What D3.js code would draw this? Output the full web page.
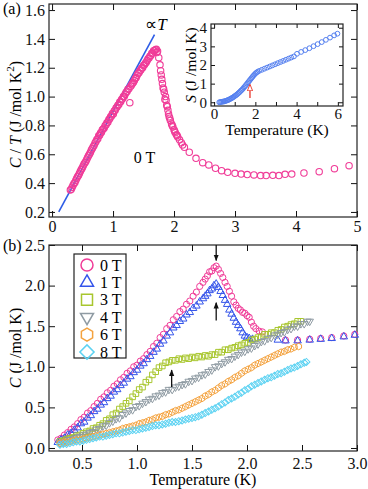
<!DOCTYPE html>
<html>
<head>
<meta charset="utf-8">
<script src="https://cdn.jsdelivr.net/npm/d3@7"></script>
<style>
  body { margin: 0; background: #fff; }
  svg { display: block; }
</style>
</head>
<body>
<svg id="chart"></svg>
<script>
// DATA
// panel (a): C/T at 0 T, [T (K), C/T (J/mol K^2)]
const ctZero = [
  [0.30,0.352],[0.315,0.358],[0.33,0.372],[0.345,0.385],[0.36,0.398],[0.375,0.405],[0.39,0.420],[0.405,0.434],
  [0.42,0.446],[0.435,0.455],[0.45,0.468],[0.465,0.482],[0.48,0.494],[0.495,0.505],[0.51,0.518],[0.525,0.532],
  [0.54,0.542],[0.555,0.552],[0.57,0.566],[0.585,0.580],[0.60,0.592],[0.615,0.602],[0.63,0.614],[0.645,0.630],
  [0.66,0.640],[0.675,0.652],[0.69,0.662],[0.705,0.678],[0.72,0.688],[0.735,0.702],[0.75,0.708],[0.765,0.728],
  [0.78,0.732],[0.795,0.748],[0.81,0.752],[0.825,0.770],[0.84,0.775],[0.855,0.782],[0.87,0.798],[0.885,0.805],
  [0.90,0.818],[0.915,0.822],[0.93,0.840],[0.945,0.846],[0.96,0.860],[0.975,0.865],[0.99,0.882],[1.005,0.880],
  [1.02,0.900],[1.035,0.905],[1.05,0.920],[1.065,0.928],[1.08,0.940],[1.095,0.945],[1.11,0.962],[1.125,0.965],
  [1.14,0.980],[1.155,0.985],[1.17,1.000],[1.185,1.002],[1.20,1.018],[1.215,1.030],[1.23,1.036],[1.245,1.050],
  [1.26,1.055],[1.275,0.958],[1.29,1.072],[1.305,1.082],[1.32,1.092],[1.335,1.100],[1.35,1.112],[1.365,1.125],
  [1.38,1.132],[1.395,1.148],[1.41,1.160],[1.425,1.165],[1.44,1.180],[1.455,1.185],[1.47,1.198],[1.485,1.200],
  [1.50,1.215],[1.515,1.220],[1.53,1.232],[1.545,1.238],[1.56,1.250],[1.575,1.262],[1.59,1.268],[1.605,1.280],
  [1.62,1.285],[1.635,1.300],[1.65,1.302],[1.665,1.318],[1.68,1.318],[1.695,1.325],[1.71,1.328],[1.72,1.305],
  [1.73,1.315],[1.75,1.270],[1.77,1.220],[1.78,1.180],[1.79,1.150],[1.80,1.120],[1.81,1.090],[1.82,1.060],
  [1.83,1.050],[1.84,1.030],[1.85,0.980],[1.86,1.000],[1.87,0.975],[1.88,0.940],[1.89,0.930],[1.90,0.905],
  [1.91,0.880],[1.92,0.860],[1.93,0.850],[1.94,0.835],[1.96,0.810],[1.97,0.800],[1.98,0.790],[2.00,0.770],
  [2.01,0.760],[2.02,0.750],[2.04,0.735],[2.05,0.730],[2.06,0.720],[2.09,0.700],[2.12,0.680],[2.14,0.665],
  [2.17,0.648],[2.25,0.614],[2.36,0.572],[2.47,0.542],[2.57,0.526],[2.68,0.503],[2.78,0.486],[2.88,0.475],
  [3.00,0.468],[3.10,0.463],[3.20,0.459],[3.31,0.457],[3.42,0.452],[3.51,0.452],[3.62,0.454],[3.72,0.452],
  [3.82,0.461],[3.93,0.463],[4.13,0.470],[4.38,0.479],[4.63,0.500],[4.87,0.521]
];
// straight line "∝ T"
const ctFit = [[0.11, 0.20], [1.68, 1.43]];

// inset: entropy S (J/mol K)
const entropy = [
  [0.25,0.00],[0.30,0.01],[0.35,0.02],[0.40,0.03],[0.45,0.04],[0.50,0.05],[0.55,0.07],[0.60,0.09],
  [0.65,0.11],[0.70,0.13],[0.75,0.16],[0.80,0.19],[0.85,0.22],[0.90,0.25],[0.95,0.29],[1.00,0.33],
  [1.05,0.37],[1.10,0.41],[1.15,0.46],[1.20,0.51],[1.25,0.56],[1.30,0.62],[1.35,0.67],[1.40,0.73],
  [1.45,0.80],[1.50,0.86],[1.55,0.93],[1.60,1.00],[1.65,1.07],[1.70,1.14],[1.75,1.21],[1.80,1.28],
  [1.85,1.35],[1.90,1.42],[1.95,1.48],[2.00,1.54],[2.05,1.59],[2.10,1.63],
  [2.18,1.68],[2.31,1.74],[2.44,1.80],[2.57,1.86],[2.70,1.92],[2.83,1.98],[2.96,2.04],[3.09,2.10],
  [3.22,2.16],[3.35,2.22],[3.48,2.28],[3.61,2.34],[3.74,2.40],[3.87,2.46],[4.02,2.60],[4.22,2.70],
  [4.42,2.80],[4.62,2.90],[4.82,3.01],[5.02,3.12],[5.22,3.23],[5.42,3.35],[5.62,3.47],[5.82,3.59],[5.98,3.68]
];

// panel (b): C (J/mol K) for each field
const c0T = [
  [0.28,0.10],[0.31,0.12],[0.34,0.16],[0.37,0.19],[0.40,0.23],[0.43,0.26],[0.46,0.30],[0.49,0.35],[0.52,0.38],
  [0.55,0.43],[0.58,0.46],[0.61,0.51],[0.64,0.55],[0.67,0.60],[0.70,0.63],[0.73,0.68],[0.76,0.71],[0.79,0.76],
  [0.82,0.79],[0.85,0.84],[0.88,0.87],[0.91,0.92],[0.94,0.95],[0.97,1.00],[1.00,1.02],[1.03,1.07],[1.06,1.10],
  [1.09,1.15],[1.12,1.19],[1.15,1.25],[1.18,1.29],[1.21,1.36],[1.24,1.40],[1.27,1.47],[1.30,1.51],[1.33,1.58],
  [1.36,1.62],[1.39,1.68],[1.42,1.71],[1.45,1.77],[1.48,1.81],[1.51,1.87],[1.54,1.92],[1.57,1.99],[1.60,2.04],
  [1.62,2.08],[1.64,2.12],[1.66,2.17],[1.68,2.18],[1.70,2.22],[1.72,2.24],[1.74,2.20],[1.76,2.15],[1.78,2.10],
  [1.80,2.04],[1.82,1.99],[1.84,1.93],[1.86,1.87],[1.88,1.80],[1.90,1.76],[1.92,1.72],[1.94,1.70],[1.96,1.67],
  [1.98,1.66],[2.00,1.63],[2.02,1.61],[2.04,1.55],[2.06,1.50],[2.08,1.47],[2.11,1.44],[2.14,1.43],
  [2.35,1.33],[2.46,1.33],[2.57,1.34],[2.67,1.35],[2.77,1.36],[2.88,1.38],[2.98,1.40]
];
const c1T = [
  [0.28,0.07],[0.31,0.10],[0.34,0.12],[0.37,0.16],[0.40,0.18],[0.43,0.22],[0.46,0.25],[0.49,0.30],[0.52,0.32],
  [0.55,0.37],[0.58,0.40],[0.61,0.45],[0.64,0.48],[0.67,0.53],[0.70,0.56],[0.73,0.61],[0.76,0.64],[0.79,0.69],
  [0.82,0.72],[0.85,0.77],[0.88,0.80],[0.91,0.85],[0.94,0.88],[0.97,0.93],[1.00,0.96],[1.03,1.01],[1.06,1.04],
  [1.09,1.09],[1.12,1.13],[1.15,1.18],[1.18,1.22],[1.21,1.28],[1.24,1.32],[1.27,1.38],[1.30,1.42],[1.33,1.48],
  [1.36,1.51],[1.39,1.56],[1.42,1.59],[1.45,1.64],[1.48,1.67],[1.51,1.72],[1.54,1.75],[1.57,1.80],[1.60,1.84],
  [1.62,1.87],[1.64,1.90],[1.66,1.94],[1.68,1.96],[1.70,2.00],[1.72,2.02],[1.74,1.98],[1.76,1.93],[1.78,1.88],
  [1.80,1.82],[1.82,1.77],[1.84,1.70],[1.86,1.65],[1.88,1.60],[1.90,1.55],[1.92,1.51],[1.94,1.47],[1.96,1.42],
  [1.98,1.38],[2.00,1.36],[2.02,1.35],[2.05,1.34],
  [2.28,1.33],[2.35,1.32],[2.46,1.32],[2.57,1.33],[2.67,1.34],[2.77,1.35],[2.88,1.37],[2.98,1.39]
];
const c3T = [
  [0.30,0.08],[0.33,0.09],[0.36,0.11],[0.39,0.12],[0.42,0.13],[0.45,0.15],[0.48,0.16],[0.51,0.18],[0.54,0.20],
  [0.57,0.21],[0.60,0.24],[0.63,0.25],[0.66,0.28],[0.69,0.30],[0.72,0.34],[0.75,0.36],[0.78,0.41],[0.81,0.43],
  [0.84,0.48],[0.87,0.51],[0.90,0.55],[0.93,0.58],[0.96,0.63],[0.99,0.67],[1.02,0.72],[1.05,0.75],[1.08,0.81],
  [1.11,0.84],[1.14,0.90],[1.17,0.94],[1.20,0.99],[1.23,1.01],[1.26,1.05],[1.29,1.06],[1.32,1.08],[1.35,1.08],
  [1.38,1.10],[1.41,1.09],[1.44,1.11],[1.47,1.10],[1.50,1.12],[1.53,1.11],[1.56,1.13],[1.59,1.12],[1.62,1.14],
  [1.65,1.13],[1.68,1.15],[1.71,1.15],[1.74,1.18],[1.77,1.18],[1.80,1.21],[1.83,1.21],[1.86,1.23],[1.89,1.24],
  [1.92,1.26],[1.95,1.27],[1.98,1.29],[2.01,1.30],[2.04,1.33],[2.07,1.34],[2.10,1.36],[2.13,1.37],[2.16,1.40],
  [2.19,1.40],[2.22,1.42],[2.25,1.42],[2.28,1.45],[2.31,1.46],[2.34,1.49],[2.37,1.50],[2.40,1.52],[2.43,1.53],
  [2.46,1.56],[2.49,1.56]
];
const c4T = [
  [0.30,0.06],[0.33,0.07],[0.36,0.08],[0.39,0.10],[0.42,0.11],[0.45,0.13],[0.48,0.14],[0.51,0.16],[0.54,0.17],
  [0.57,0.19],[0.60,0.20],[0.63,0.23],[0.66,0.24],[0.69,0.27],[0.72,0.28],[0.75,0.31],[0.78,0.33],[0.81,0.36],
  [0.84,0.37],[0.87,0.41],[0.90,0.43],[0.93,0.46],[0.96,0.47],[0.99,0.51],[1.02,0.52],[1.05,0.55],[1.08,0.57],
  [1.11,0.60],[1.14,0.61],[1.17,0.64],[1.20,0.65],[1.23,0.68],[1.26,0.69],[1.29,0.72],[1.32,0.72],[1.35,0.75],
  [1.38,0.76],[1.41,0.78],[1.44,0.79],[1.47,0.82],[1.50,0.83],[1.53,0.86],[1.56,0.87],[1.59,0.90],[1.62,0.91],
  [1.65,0.94],[1.68,0.96],[1.71,1.00],[1.74,1.01],[1.77,1.04],[1.80,1.06],[1.83,1.09],[1.86,1.10],[1.89,1.13],
  [1.92,1.15],[1.95,1.18],[1.98,1.19],[2.01,1.22],[2.04,1.23],[2.07,1.26],[2.10,1.28],[2.13,1.31],[2.16,1.32],
  [2.19,1.35],[2.22,1.36],[2.25,1.39],[2.28,1.40],[2.31,1.42],[2.34,1.43],[2.37,1.46],[2.40,1.47],[2.43,1.50],
  [2.46,1.50],[2.49,1.53],[2.52,1.53],[2.55,1.56],[2.57,1.56]
];
const c6T = [
  [0.30,0.06],[0.33,0.07],[0.36,0.07],[0.39,0.08],[0.42,0.09],[0.45,0.10],[0.48,0.10],[0.51,0.11],[0.54,0.12],
  [0.57,0.13],[0.60,0.14],[0.63,0.15],[0.66,0.16],[0.69,0.17],[0.72,0.18],[0.75,0.19],[0.78,0.20],[0.81,0.21],
  [0.84,0.22],[0.87,0.24],[0.90,0.25],[0.93,0.26],[0.96,0.27],[0.99,0.28],[1.02,0.30],[1.05,0.31],[1.08,0.32],
  [1.11,0.34],[1.14,0.35],[1.17,0.37],[1.20,0.38],[1.23,0.39],[1.26,0.41],[1.29,0.42],[1.32,0.44],[1.35,0.46],
  [1.38,0.47],[1.41,0.49],[1.44,0.51],[1.47,0.53],[1.50,0.55],[1.53,0.57],[1.56,0.59],[1.59,0.61],[1.62,0.64],
  [1.65,0.66],[1.68,0.69],[1.71,0.71],[1.74,0.74],[1.77,0.77],[1.80,0.79],[1.83,0.82],[1.86,0.84],[1.89,0.87],
  [1.92,0.89],[1.95,0.92],[1.98,0.95],[2.01,0.97],[2.04,0.99],[2.07,1.02],[2.10,1.04],[2.13,1.06],[2.16,1.08],
  [2.19,1.10],[2.22,1.12],[2.25,1.14],[2.28,1.16],[2.31,1.18],[2.34,1.19],[2.37,1.21],[2.40,1.22],[2.43,1.24],
  [2.47,1.25]
];
const c8T = [
  [0.30,0.04],[0.33,0.05],[0.36,0.05],[0.39,0.06],[0.42,0.07],[0.45,0.08],[0.48,0.08],[0.51,0.09],[0.54,0.10],
  [0.57,0.11],[0.60,0.12],[0.63,0.13],[0.66,0.14],[0.69,0.14],[0.72,0.15],[0.75,0.16],[0.78,0.17],[0.81,0.18],
  [0.84,0.18],[0.87,0.19],[0.90,0.20],[0.93,0.21],[0.96,0.22],[0.99,0.22],[1.02,0.23],[1.05,0.24],[1.08,0.25],
  [1.11,0.26],[1.14,0.27],[1.17,0.28],[1.20,0.28],[1.23,0.29],[1.26,0.30],[1.29,0.31],[1.32,0.32],[1.35,0.32],
  [1.38,0.33],[1.41,0.34],[1.44,0.35],[1.47,0.36],[1.50,0.37],[1.53,0.38],[1.56,0.39],[1.59,0.41],[1.62,0.43],
  [1.65,0.45],[1.68,0.47],[1.71,0.49],[1.74,0.51],[1.77,0.54],[1.80,0.56],[1.83,0.59],[1.86,0.61],[1.89,0.63],
  [1.92,0.66],[1.95,0.68],[1.98,0.71],[2.01,0.73],[2.04,0.76],[2.07,0.78],[2.10,0.80],[2.13,0.82],[2.16,0.84],
  [2.19,0.86],[2.22,0.87],[2.25,0.89],[2.28,0.91],[2.31,0.92],[2.34,0.94],[2.37,0.96],[2.40,0.98],[2.43,0.99],
  [2.46,1.01],[2.49,1.03],[2.52,1.05],[2.54,1.06]
];
const fieldLabels = ['0 T', '1 T', '3 T', '4 T', '6 T', '8 T'];
const fieldData = [c0T, c1T, c3T, c4T, c6T, c8T];

// arrows [T, from, to]
const arrowsB = [[1.72, 2.50, 2.31], [1.72, 1.57, 1.79], [1.315, 0.75, 0.96]];
const arrowInset = [1.74, 0.23, 0.93];

// tick values
const xTicksA = [0, 1, 2, 3, 4, 5];
const yTicksA = [0.2, 0.4, 0.6, 0.8, 1.0, 1.2, 1.4, 1.6];
const xTicksB = [0.5, 1.0, 1.5, 2.0, 2.5, 3.0];
const yTicksB = [0.0, 0.5, 1.0, 1.5, 2.0, 2.5];
const xTicksS = [0, 1, 2, 3, 4, 5, 6];
const yTicksS = [0, 1, 2, 3, 4];

// SETUP
const width = 368;
const height = 489;
const serif = 'Liberation Serif';
const svg = d3.select('#chart')
  .attr('width', width)
  .attr('height', height);

const defs = svg.append('defs');
defs.append('marker')
  .attr('id', 'headBlack')
  .attr('viewBox', '0 0 10 10')
  .attr('refX', 9).attr('refY', 5)
  .attr('markerWidth', 5).attr('markerHeight', 6)
  .attr('orient', 'auto')
  .append('path').attr('d', 'M0,1 L10,5 L0,9 z').attr('fill', '#111');
defs.append('marker')
  .attr('id', 'headRed')
  .attr('viewBox', '-1 -1 12 12')
  .attr('refX', 9).attr('refY', 5)
  .attr('markerWidth', 6).attr('markerHeight', 6)
  .attr('orient', 'auto')
  .append('path').attr('d', 'M0,1 L10,5 L0,9 z')
  .attr('fill', '#fff').attr('stroke', '#e8352a').attr('stroke-width', 1.4);

// scales
const xA = d3.scaleLinear().domain([-0.05, 5.0]).range([49, 357]);
const yA = d3.scaleLinear().domain([0.165, 1.642]).range([217, 4]);
const xB = d3.scaleLinear().domain([0.2, 3.0]).range([49, 357]);
const yB = d3.scaleLinear().domain([-0.037, 2.5]).range([451, 245]);
const xS = d3.scaleLinear().domain([-0.15, 6.25]).range([211, 343]);
const yS = d3.scaleLinear().domain([-0.2, 4.2]).range([106, 24]);

// HELPERS
const styleAxis = (g, size = 16) => {
  g.select('.domain').remove();
  g.attr('color', '#111');
  g.selectAll('text').attr('font-family', serif).attr('font-size', size);
  g.selectAll('line').attr('stroke-width', 1);
};

const drawAxes = ({ x, y, xTicks, yTicks, xFormat, yFormat, tick, xPad, yPad, size }) => {
  const [x0, x1] = x.range();
  const [y0, y1] = y.range();
  svg.append('g').attr('transform', `translate(0,${y0})`)
    .call(d3.axisBottom(x).tickValues(xTicks).tickFormat(xFormat).tickSize(-tick).tickPadding(xPad))
    .call(styleAxis, size);
  svg.append('g').attr('transform', `translate(0,${y1})`)
    .call(d3.axisTop(x).tickValues(xTicks).tickFormat('').tickSize(-tick))
    .call(styleAxis, size);
  svg.append('g').attr('transform', `translate(${x0},0)`)
    .call(d3.axisLeft(y).tickValues(yTicks).tickFormat(yFormat).tickSize(-tick).tickPadding(yPad))
    .call(styleAxis, size);
  svg.append('g').attr('transform', `translate(${x1},0)`)
    .call(d3.axisRight(y).tickValues(yTicks).tickFormat('').tickSize(-tick))
    .call(styleAxis, size);
  svg.append('rect')
    .attr('x', x0).attr('y', y1)
    .attr('width', x1 - x0).attr('height', y0 - y1)
    .attr('fill', 'none').attr('stroke', '#222').attr('stroke-width', 1.2);
};

const hexagon = r => d3.line().curve(d3.curveLinearClosed)(
  d3.range(6).map(i => [r * Math.cos(Math.PI / 3 * i - Math.PI / 2), r * Math.sin(Math.PI / 3 * i - Math.PI / 2)])
);

// marker shape per field, [data size, legend size]
const shapes = [
  { color: '#f03c98', path: s => d3.symbol(d3.symbolCircle, Math.PI * s * s)(), size: [3.1, 6], rot: 0 },
  { color: '#3454ea', path: s => d3.symbol(d3.symbolTriangle, 0.433 * s * s)(), size: [7.5, 13], rot: 0 },
  { color: '#a8c62e', path: s => d3.symbol(d3.symbolSquare, s * s)(), size: [5.6, 11], rot: 0 },
  { color: '#8f9ba3', path: s => d3.symbol(d3.symbolTriangle, 0.433 * s * s)(), size: [7.5, 13], rot: 180 },
  { color: '#f4a23e', path: s => hexagon(s), size: [3.3, 6.5], rot: 0 },
  { color: '#5cd2f2', path: s => d3.symbol(d3.symbolSquare, s * s)(), size: [5, 10], rot: 45 }
];

const scatter = (data, x, y, shape, size, width) => {
  svg.append('g')
    .selectAll('path')
    .data(data)
    .join('path')
      .attr('transform', d => `translate(${x(d[0])},${y(d[1])}) rotate(${shape.rot})`)
      .attr('d', shape.path(size))
      .attr('fill', 'none')
      .attr('stroke', shape.color)
      .attr('stroke-width', width);
};

// PANEL (a)
drawAxes({ x: xA, y: yA, xTicks: xTicksA, yTicks: yTicksA, xFormat: d3.format('d'), yFormat: d3.format('.1f'), tick: 6, xPad: 4, yPad: 4, size: 16 });

svg.append('path')
  .datum(ctFit)
  .attr('d', d3.line().x(d => xA(d[0])).y(d => yA(d[1])))
  .attr('stroke', '#2e5de6').attr('stroke-width', 1.6).attr('fill', 'none');

scatter(ctZero, xA, yA, shapes[0], 3.2, 1.1);

svg.append('text')
  .attr('x', xA(1.53)).attr('y', yA(1.46))
  .attr('font-size', 17)
  .call(t => t.append('tspan').text('∝'))
  .call(t => t.append('tspan').attr('font-style', 'italic').text('T'));

svg.append('text')
  .attr('x', xA(1.34)).attr('y', yA(0.54))
  .attr('font-size', 16)
  .text('0 T');

svg.append('text')
  .attr('transform', `translate(21,${(yA.range()[0] + yA.range()[1]) / 2 + 4}) rotate(-90)`)
  .attr('text-anchor', 'middle')
  .attr('font-size', 16)
  .call(t => t.append('tspan').attr('font-style', 'italic').text('C'))
  .call(t => t.append('tspan').text(' / '))
  .call(t => t.append('tspan').attr('font-style', 'italic').text('T'))
  .call(t => t.append('tspan').text(' (J /mol K'))
  .call(t => t.append('tspan').attr('font-size', 11).attr('dy', -7).text('2'))
  .call(t => t.append('tspan').attr('dy', 7).text(')'));

svg.append('text').attr('x', 3).attr('y', 14).attr('font-size', 16).text('(a)');

// INSET
svg.append('rect')
  .attr('x', xS.range()[0]).attr('y', yS.range()[1])
  .attr('width', xS.range()[1] - xS.range()[0]).attr('height', yS.range()[0] - yS.range()[1])
  .attr('fill', '#fff');
drawAxes({ x: xS, y: yS, xTicks: xTicksS, yTicks: yTicksS, xFormat: d => (d % 2 === 0 ? d : ''), yFormat: d3.format('d'), tick: 4, xPad: 2, yPad: 4, size: 15 });

scatter(entropy, xS, yS, { color: '#5580f0', path: shapes[0].path, rot: 0 }, 2.4, 1);

svg.append('line')
  .attr('x1', xS(arrowInset[0])).attr('x2', xS(arrowInset[0]))
  .attr('y1', yS(arrowInset[1])).attr('y2', yS(arrowInset[2]))
  .attr('stroke', '#e8352a').attr('stroke-width', 1.3)
  .attr('marker-end', 'url(#headRed)');

svg.append('text')
  .attr('x', (xS.range()[0] + xS.range()[1]) / 2).attr('y', 135)
  .attr('text-anchor', 'middle').attr('font-size', 15.5)
  .text('Temperature (K)');

svg.append('text')
  .attr('transform', `translate(196,${(yS.range()[0] + yS.range()[1]) / 2}) rotate(-90)`)
  .attr('text-anchor', 'middle').attr('font-size', 15.5)
  .call(t => t.append('tspan').attr('font-style', 'italic').text('S'))
  .call(t => t.append('tspan').text(' (J /mol K)'));

// PANEL (b)
drawAxes({ x: xB, y: yB, xTicks: xTicksB, yTicks: yTicksB, xFormat: d3.format('.1f'), yFormat: d3.format('.1f'), tick: 6, xPad: 7, yPad: 4, size: 16 });

fieldData.forEach((data, i) => scatter(data, xB, yB, shapes[i], shapes[i].size[0], 1));

arrowsB.forEach(a => {
  svg.append('line')
    .attr('x1', xB(a[0])).attr('x2', xB(a[0]))
    .attr('y1', yB(a[1])).attr('y2', yB(a[2]))
    .attr('stroke', '#111').attr('stroke-width', 1.3)
    .attr('marker-end', 'url(#headBlack)');
});

// legend
const legend = svg.append('g').attr('transform', 'translate(74,254)');
legend.append('rect')
  .attr('width', 52).attr('height', 104)
  .attr('fill', '#fff').attr('stroke', '#222').attr('stroke-width', 1.2);
fieldLabels.forEach((label, i) => {
  const row = legend.append('g').attr('transform', `translate(0,${11 + i * 17.4})`);
  row.append('path')
    .attr('transform', `translate(13,0) rotate(${shapes[i].rot})`)
    .attr('d', shapes[i].path(shapes[i].size[1]))
    .attr('fill', 'none').attr('stroke', shapes[i].color).attr('stroke-width', 1.5);
  row.append('text')
    .attr('x', 26).attr('y', 0).attr('dy', '0.35em')
    .attr('font-size', 16)
    .text(label);
});

svg.append('text')
  .attr('x', (xB.range()[0] + xB.range()[1]) / 2).attr('y', 485)
  .attr('text-anchor', 'middle').attr('font-size', 16)
  .text('Temperature (K)');

svg.append('text')
  .attr('transform', `translate(21,${(yB.range()[0] + yB.range()[1]) / 2}) rotate(-90)`)
  .attr('text-anchor', 'middle').attr('font-size', 16)
  .call(t => t.append('tspan').attr('font-style', 'italic').text('C'))
  .call(t => t.append('tspan').text(' (J /mol K)'));

svg.append('text').attr('x', 3).attr('y', 251).attr('font-size', 16).text('(b)');

// serif font straight on every text node
svg.selectAll('text, tspan').attr('font-family', serif);
</script>
</body>
</html>
